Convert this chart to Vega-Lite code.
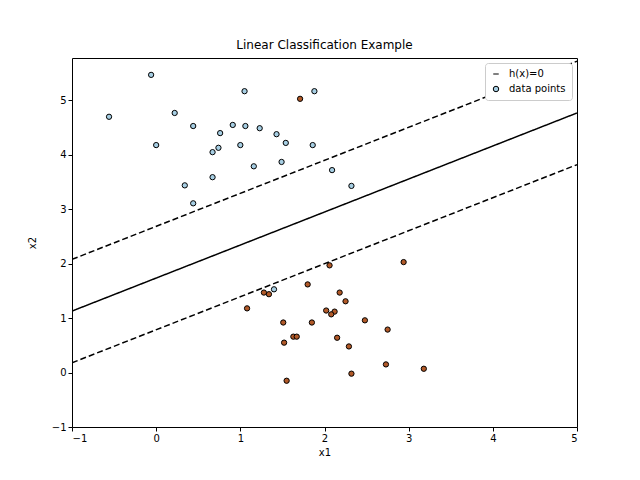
{
  "$schema": "https://vega.github.io/schema/vega-lite/v6.json",
  "autosize": "none",
  "width": 505,
  "height": 369,
  "padding": {"left": 72, "top": 58, "right": 63, "bottom": 53},
  "title": {"text": "Linear Classification Example", "font": "DejaVu Sans", "fontSize": 12, "fontWeight": "normal", "offset": 6},
  "config": {
    "font": "DejaVu Sans",
    "view": {"stroke": "black", "strokeWidth": 1},
    "axis": {"grid": false, "domain": false, "tickColor": "black", "tickSize": 4, "labelColor": "black", "labelFontSize": 10, "titleColor": "black", "titleFontSize": 10, "titleFontWeight": "normal", "labelFont": "DejaVu Sans", "titleFont": "DejaVu Sans"}
  },
  "datasets": {
    "pts": [
      {"x1": -0.06, "x2": 5.47, "c": 0}, {"x1": -0.56, "x2": 4.70, "c": 0}, {"x1": 0.22, "x2": 4.77, "c": 0},
      {"x1": 0.44, "x2": 4.53, "c": 0}, {"x1": 0.0, "x2": 4.18, "c": 0}, {"x1": 1.05, "x2": 5.17, "c": 0},
      {"x1": 1.88, "x2": 5.17, "c": 0}, {"x1": 0.91, "x2": 4.55, "c": 0}, {"x1": 1.06, "x2": 4.53, "c": 0},
      {"x1": 1.23, "x2": 4.49, "c": 0}, {"x1": 1.43, "x2": 4.38, "c": 0}, {"x1": 0.76, "x2": 4.40, "c": 0},
      {"x1": 1.54, "x2": 4.22, "c": 0}, {"x1": 1.86, "x2": 4.18, "c": 0}, {"x1": 1.00, "x2": 4.18, "c": 0},
      {"x1": 0.67, "x2": 4.05, "c": 0}, {"x1": 0.74, "x2": 4.13, "c": 0}, {"x1": 1.49, "x2": 3.87, "c": 0},
      {"x1": 1.16, "x2": 3.79, "c": 0}, {"x1": 2.09, "x2": 3.72, "c": 0}, {"x1": 0.34, "x2": 3.44, "c": 0},
      {"x1": 0.67, "x2": 3.59, "c": 0}, {"x1": 2.32, "x2": 3.43, "c": 0}, {"x1": 0.44, "x2": 3.11, "c": 0},
      {"x1": 1.40, "x2": 1.53, "c": 0},
      {"x1": 1.71, "x2": 5.03, "c": 1}, {"x1": 2.06, "x2": 1.97, "c": 1}, {"x1": 2.94, "x2": 2.03, "c": 1},
      {"x1": 1.28, "x2": 1.47, "c": 1}, {"x1": 1.34, "x2": 1.44, "c": 1}, {"x1": 1.80, "x2": 1.62, "c": 1},
      {"x1": 2.18, "x2": 1.47, "c": 1}, {"x1": 2.25, "x2": 1.31, "c": 1}, {"x1": 1.08, "x2": 1.18, "c": 1},
      {"x1": 2.02, "x2": 1.14, "c": 1}, {"x1": 2.12, "x2": 1.12, "c": 1}, {"x1": 2.08, "x2": 1.07, "c": 1},
      {"x1": 2.48, "x2": 0.96, "c": 1}, {"x1": 1.51, "x2": 0.92, "c": 1}, {"x1": 1.85, "x2": 0.92, "c": 1},
      {"x1": 2.75, "x2": 0.79, "c": 1}, {"x1": 1.63, "x2": 0.66, "c": 1}, {"x1": 1.67, "x2": 0.66, "c": 1},
      {"x1": 2.15, "x2": 0.64, "c": 1}, {"x1": 1.52, "x2": 0.55, "c": 1}, {"x1": 2.29, "x2": 0.48, "c": 1},
      {"x1": 2.73, "x2": 0.15, "c": 1}, {"x1": 3.18, "x2": 0.07, "c": 1}, {"x1": 2.32, "x2": -0.02, "c": 1},
      {"x1": 1.55, "x2": -0.15, "c": 1}
    ],
    "lines": [
      {"x1": -1, "x2": 1.13, "line": "mid", "dash": "solid"}, {"x1": 5, "x2": 4.77, "line": "mid", "dash": "solid"},
      {"x1": -1, "x2": 2.08, "line": "up", "dash": "dashed"}, {"x1": 5, "x2": 5.72, "line": "up", "dash": "dashed"},
      {"x1": -1, "x2": 0.18, "line": "low", "dash": "dashed"}, {"x1": 5, "x2": 3.82, "line": "low", "dash": "dashed"}
    ]
  },
  "encoding": {
    "x": {"field": "x1", "type": "quantitative", "title": "x1", "scale": {"domain": [-1, 5], "nice": false, "zero": false}, "axis": {"values": [-1, 0, 1, 2, 3, 4, 5]}},
    "y": {"field": "x2", "type": "quantitative", "title": "x2", "scale": {"domain": [-1, 5.78], "nice": false, "zero": false}, "axis": {"values": [-1, 0, 1, 2, 3, 4, 5], "titlePadding": 14}}
  },
  "layer": [
    {
      "data": {"name": "lines"},
      "mark": {"type": "line", "color": "black", "strokeWidth": 1.5, "clip": true},
      "encoding": {
        "detail": {"field": "line"},
        "strokeDash": {"field": "dash", "type": "nominal", "scale": {"domain": ["solid", "dashed"], "range": [[1, 0], [6, 3]]}, "legend": null}
      }
    },
    {
      "data": {"name": "pts"},
      "transform": [{"calculate": "'data points'", "as": "leg"}],
      "mark": {"type": "point", "filled": true, "size": 28, "stroke": "black", "strokeWidth": 1, "opacity": 1},
      "encoding": {
        "fill": {"field": "c", "type": "nominal", "scale": {"domain": [0, 1], "range": ["#a6cee3", "#b15928"]}, "legend": null},
        "shape": {"field": "leg", "type": "nominal", "title": null,
          "scale": {"domain": ["h(x)=0", "data points"], "range": ["stroke", "circle"]},
          "legend": {
            "orient": "top-right", "offset": 5, "strokeColor": "#cccccc", "fillColor": "white", "padding": 6, "cornerRadius": 3,
            "labelFontSize": 10, "labelColor": "black", "symbolSize": 30, "rowPadding": 5, "labelOffset": 8,
            "symbolStrokeColor": "black", "symbolFillColor": "#a6cee3", "symbolStrokeWidth": 1,
            "encode": {"symbols": {
              "enter": {
                "strokeDash": {"signal": "datum.value == 'h(x)=0' ? [5, 2.5] : [1, 0]"},
                "size": {"signal": "datum.value == 'h(x)=0' ? 700 : 30"},
                "strokeWidth": {"signal": "datum.value == 'h(x)=0' ? 1.5 : 1"},
                "fill": {"signal": "datum.value == 'h(x)=0' ? 'transparent' : '#a6cee3'"}
              },
              "update": {
                "strokeDash": {"signal": "datum.value == 'h(x)=0' ? [5, 2.5] : [1, 0]"},
                "size": {"signal": "datum.value == 'h(x)=0' ? 700 : 30"},
                "strokeWidth": {"signal": "datum.value == 'h(x)=0' ? 1.5 : 1"},
                "fill": {"signal": "datum.value == 'h(x)=0' ? 'transparent' : '#a6cee3'"},
                "stroke": {"value": "black"}
              }
            }}
          }
        }
      }
    }
  ]
}
